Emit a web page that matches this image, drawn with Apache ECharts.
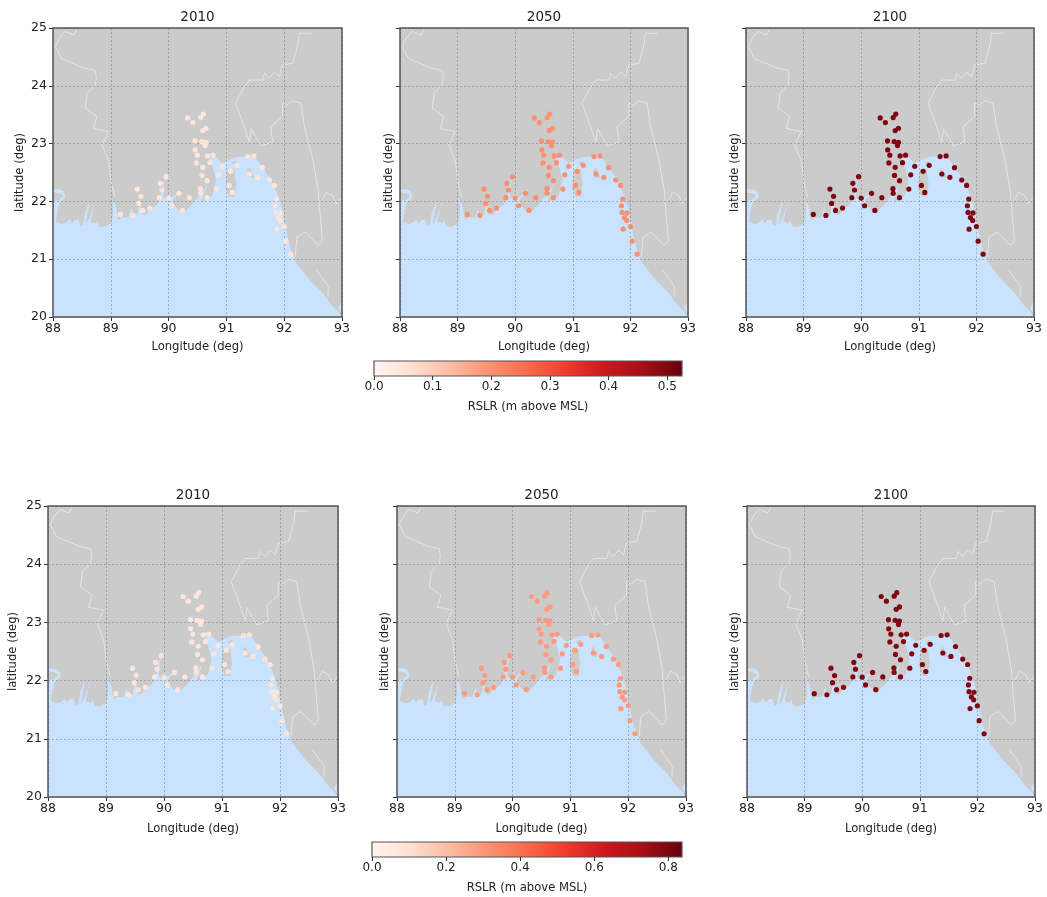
<!DOCTYPE html>
<html><head><meta charset="utf-8">
<style>html,body{margin:0;padding:0;background:#fff}#c{width:1047px;height:897px;filter:blur(0.4px)}</style>
<script src="https://cdn.jsdelivr.net/npm/echarts@6/dist/echarts.min.js"></script>
</head><body><div id="c"></div>
<script>
const years = ['2010', '2050', '2100'];
const lonTicks = [88, 89, 90, 91, 92, 93];
const latTicks = [20, 21, 22, 23, 24, 25];
const barTicksTop = [0, 0.1, 0.2, 0.3, 0.4, 0.5];
const barTicksBottom = [0, 0.2, 0.4, 0.6, 0.8];
const barMaxTop = 0.525;
const barMaxBottom = 0.837;
const redsStops = ['#fff5f0','#fee0d2','#fcbba1','#fc9272','#fb6a4a','#ef3b2c','#cb181d','#a50f15','#67000d'];

const stationLon = [90.33,90.42,90.555,90.60,90.59,90.647,90.457,90.572,90.647,90.63,90.46,90.497,90.676,90.77,90.48,90.717,90.59,90.578,90.665,90.86,90.93,91.075,91.18,91.37,91.474,91.62,91.40,91.54,91.745,91.83,91.046,91.104,90.827,90.55,90.555,90.665,90.358,90.18,89.954,89.855,89.884,89.838,90.0,90.058,90.237,89.676,89.555,89.486,89.52,89.457,89.387,89.168,91.867,91.844,91.855,91.94,91.896,91.936,91.873,92.0,92.03,92.116];
const stationLat = [23.445,23.364,23.45,23.51,23.225,23.266,23.046,23.035,23.023,22.965,22.89,22.80,22.786,22.80,22.665,22.67,22.59,22.45,22.358,22.46,22.607,22.52,22.624,22.775,22.786,22.584,22.474,22.416,22.37,22.277,22.277,22.156,22.214,22.22,22.14,22.064,22.064,22.14,22.428,22.312,22.197,22.064,22.058,21.925,21.844,21.884,21.844,21.965,22.087,22.214,21.757,21.775,22.04,21.925,21.81,21.80,21.72,21.67,21.52,21.566,21.312,21.087];

const rslrTop2010 = [0.05,0.05,0.05,0.05,0.05,0.05,0.05,0.05,0.05,0.05,0.05,0.05,0.05,0.05,0.05,0.05,0.05,0.05,0.05,0.05,0.05,0.05,0.05,0.05,0.05,0.05,0.05,0.05,0.05,0.05,0.05,0.05,0.05,0.05,0.05,0.05,0.05,0.05,0.05,0.05,0.05,0.05,0.05,0.05,0.05,0.05,0.05,0.05,0.05,0.05,0.05,0.05,0.05,0.05,0.05,0.05,0.05,0.05,0.05,0.05,0.05,0.05];
const rslrTop2050 = [0.2,0.2,0.2,0.2,0.2,0.2,0.2,0.2,0.2,0.2,0.2,0.2,0.2,0.2,0.2,0.2,0.2,0.2,0.2,0.2,0.2,0.2,0.2,0.2,0.2,0.2,0.2,0.2,0.2,0.2,0.2,0.2,0.2,0.2,0.2,0.2,0.2,0.2,0.2,0.2,0.2,0.2,0.2,0.2,0.2,0.2,0.2,0.2,0.2,0.2,0.2,0.2,0.2,0.2,0.2,0.2,0.2,0.2,0.2,0.2,0.2,0.2];
const rslrTop2100 = [0.5,0.5,0.5,0.5,0.5,0.5,0.5,0.5,0.5,0.5,0.5,0.5,0.5,0.5,0.5,0.5,0.5,0.5,0.5,0.5,0.5,0.5,0.5,0.5,0.5,0.5,0.5,0.5,0.5,0.5,0.5,0.5,0.5,0.5,0.5,0.5,0.5,0.5,0.5,0.5,0.5,0.5,0.5,0.5,0.5,0.5,0.5,0.5,0.5,0.5,0.5,0.5,0.5,0.5,0.5,0.5,0.5,0.5,0.5,0.5,0.5,0.5];
const rslrBottom2010 = [0.08,0.08,0.08,0.08,0.08,0.08,0.08,0.08,0.08,0.08,0.08,0.08,0.08,0.08,0.08,0.08,0.08,0.08,0.08,0.08,0.08,0.08,0.08,0.08,0.08,0.08,0.08,0.08,0.08,0.08,0.08,0.08,0.08,0.08,0.08,0.08,0.08,0.08,0.08,0.08,0.08,0.08,0.08,0.08,0.08,0.08,0.08,0.08,0.08,0.08,0.08,0.08,0.08,0.08,0.08,0.08,0.08,0.08,0.08,0.08,0.08,0.08];
const rslrBottom2050 = [0.29,0.29,0.29,0.29,0.29,0.29,0.29,0.29,0.29,0.29,0.29,0.29,0.29,0.29,0.29,0.29,0.29,0.29,0.29,0.29,0.29,0.29,0.29,0.29,0.29,0.29,0.29,0.29,0.29,0.29,0.29,0.29,0.29,0.29,0.29,0.29,0.29,0.29,0.29,0.29,0.29,0.29,0.29,0.29,0.29,0.29,0.29,0.29,0.29,0.29,0.29,0.29,0.29,0.29,0.29,0.29,0.29,0.29,0.29,0.29,0.29,0.29];
const rslrBottom2100 = [0.79,0.79,0.79,0.79,0.79,0.79,0.79,0.79,0.79,0.79,0.79,0.79,0.79,0.79,0.79,0.79,0.79,0.79,0.79,0.79,0.79,0.79,0.79,0.79,0.79,0.79,0.79,0.79,0.79,0.79,0.79,0.79,0.79,0.79,0.79,0.79,0.79,0.79,0.79,0.79,0.79,0.79,0.79,0.79,0.79,0.79,0.79,0.79,0.79,0.79,0.79,0.79,0.79,0.79,0.79,0.79,0.79,0.79,0.79,0.79,0.79,0.79];

const seaOutline = [[88,22.21],[88.13,22.21],[88.19,22.17],[88.22,22.07],[88.12,21.98],[88.08,21.85],[88.05,21.65],[88.15,21.61],[88.22,21.63],[88.29,21.69],[88.32,21.62],[88.38,21.68],[88.44,21.69],[88.48,21.56],[88.52,21.59],[88.55,21.79],[88.65,22.05],[88.59,21.76],[88.57,21.59],[88.63,21.71],[88.69,21.88],[88.74,22.05],[88.70,21.88],[88.65,21.65],[88.73,21.62],[88.77,21.67],[88.81,21.56],[88.90,21.56],[89.015,21.62],[89.04,21.79],[89.03,22.05],[89.09,21.91],[89.13,21.68],[89.19,21.72],[89.30,21.72],[89.36,21.88],[89.39,21.74],[89.46,21.77],[89.50,22.0],[89.54,21.78],[89.60,21.76],[89.68,21.86],[89.80,21.94],[89.86,22.08],[89.90,22.31],[89.97,22.43],[89.92,22.30],[89.91,22.07],[89.98,22.02],[90.02,22.17],[90.02,22.04],[90.11,22.11],[90.20,22.15],[90.08,22.04],[90.08,21.94],[90.17,21.85],[90.28,21.82],[90.37,21.91],[90.44,21.99],[90.59,22.17],[90.67,22.31],[90.62,22.16],[90.56,21.99],[90.70,22.05],[90.76,22.11],[90.82,22.37],[90.76,22.60],[90.70,22.74],[90.82,22.77],[90.93,22.66],[91.05,22.72],[91.14,22.76],[91.37,22.78],[91.47,22.80],[91.61,22.61],[91.76,22.39],[91.87,22.16],[91.96,21.90],[92.02,21.56],[92.10,21.21],[92.21,20.93],[92.44,20.64],[92.67,20.41],[92.84,20.18],[92.93,20.10],[92.97,20.04],[93,20],[88,20]];
const seaCorner = [[93,20.27],[92.93,20.15],[93,20.05]];
const islandHook = [[88,22.16],[88.05,22.15],[88.15,22.13],[88.17,22.08],[88.09,22.02],[88,22.01]];
const islandBhola = [[91.02,22.55],[91.14,22.55],[91.17,22.30],[91.14,22.08],[91.05,22.08],[90.98,22.25]];
const islandSpeck = [[91.10,22.68],[91.18,22.70],[91.18,22.64],[91.12,22.63]];
const islandHatiya = [[91.40,22.59],[91.49,22.41],[91.40,22.41],[91.36,22.53]];
const borderWest = [[88.41,24.97],[88.36,24.88],[88.21,24.94],[88.12,24.84],[88.04,24.68],[88.15,24.47],[88.56,24.30],[88.73,24.27],[88.75,24.15],[88.73,24.01],[88.59,23.87],[88.56,23.61],[88.76,23.47],[88.70,23.26],[88.96,23.21],[88.85,22.98],[88.96,22.70],[88.99,22.46],[89.00,22.36],[89.07,22.07]];
const borderEast = [[92.47,24.91],[92.26,24.91],[92.24,24.73],[92.15,24.39],[91.97,24.36],[91.92,24.16],[91.83,24.24],[91.74,24.13],[91.66,24.22],[91.63,24.10],[91.40,24.10],[91.31,23.98],[91.16,23.70],[91.31,23.29],[91.40,23.03],[91.43,23.26],[91.60,22.96],[91.80,23.03],[91.77,23.29],[91.97,23.47],[91.97,23.70],[92.04,23.66],[92.15,23.74],[92.29,23.70],[92.35,23.29],[92.50,22.70],[92.59,22.18],[92.62,21.78],[92.66,21.32],[92.59,21.24],[92.36,21.47],[92.22,21.38],[92.19,21.04]];
const borderFarEast = [[92.65,22.01],[92.73,22.16],[92.84,22.10],[92.90,21.96],[92.99,22.07]];
const borderSouth = [[92.56,20.81],[92.64,20.70],[92.76,20.53],[92.76,20.35]];

const LAND = '#cbcbcb', SEA = '#c9e3ff', FONT = '"DejaVu Sans"', TXT = '#222';
const panels = [
  {left:53,  top:28,  w:289, h:289, name:27, labels:true,  vals:rslrTop2010, row:0, y:0, gap:24},
  {left:400, top:28,  w:288, h:289, name:5,  labels:false, vals:rslrTop2050, row:0, y:1, gap:24},
  {left:746, top:28,  w:288, h:289, name:5,  labels:false, vals:rslrTop2100, row:0, y:2, gap:24},
  {left:48,  top:506, w:290, h:291, name:29, labels:true,  vals:rslrBottom2010, row:1, y:0, gap:26},
  {left:397, top:506, w:289, h:291, name:6,  labels:false, vals:rslrBottom2050, row:1, y:1, gap:26},
  {left:747, top:506, w:288, h:291, name:6,  labels:false, vals:rslrBottom2100, row:1, y:2, gap:26}
];
const polyItem = (api, pts, fill) => ({type:'polygon', shape:{points:pts.map(p => api.coord(p))}, style:{fill:fill}, silent:true});

const option = {animation:false, backgroundColor:'#fff', graphic:[], grid:[], xAxis:[], yAxis:[], series:[], visualMap:[]};
const rowSeries = [[],[]];
panels.forEach((p, i) => {
  option.graphic.push({type:'text', x:p.left + p.w/2, y:p.top - 11, silent:true,
    style:{text:years[p.y], align:'center', verticalAlign:'middle', font:'13.5px "DejaVu Sans"', fill:TXT}});
  option.grid.push({left:p.left, top:p.top, width:p.w, height:p.h, show:true, backgroundColor:LAND, borderWidth:0});
  option.xAxis.push({type:'value', gridIndex:i, min:88, max:93, interval:1, z:4,
    name:'Longitude (deg)', nameLocation:'middle', nameGap:p.gap, nameTextStyle:{fontFamily:FONT, fontSize:11.6, color:TXT},
    axisLine:{show:false}, axisTick:{show:true, length:4, lineStyle:{color:'#333'}},
    axisLabel:{fontFamily:FONT, fontSize:12.5, color:TXT, margin:5, formatter:v => lonTicks.includes(v) ? String(v) : ''},
    splitLine:{show:true, lineStyle:{color:'rgba(90,90,90,0.38)', type:[2,2], width:1}}});
  option.yAxis.push({type:'value', gridIndex:i, min:20, max:25, interval:1, z:4,
    name:'latitude (deg)', nameLocation:'middle', nameGap:p.name, nameRotate:90, nameTextStyle:{fontFamily:FONT, fontSize:11.6, color:TXT},
    axisLine:{show:false}, axisTick:{show:true, length:4, lineStyle:{color:'#333'}},
    axisLabel:{show:p.labels, fontFamily:FONT, fontSize:12.5, color:TXT, margin:6, formatter:v => latTicks.includes(v) ? String(v) : ''},
    splitLine:{show:true, lineStyle:{color:'rgba(90,90,90,0.38)', type:[2,2], width:1}}});
  const base = {xAxisIndex:i, yAxisIndex:i, silent:true};
  option.series.push({...base, type:'custom', z:1, data:[0], clip:true, renderItem:(par, api) => ({type:'group', children:[
    polyItem(api, seaOutline, SEA), polyItem(api, seaCorner, SEA), polyItem(api, islandHook, LAND),
    polyItem(api, islandBhola, LAND), polyItem(api, islandSpeck, LAND), polyItem(api, islandHatiya, LAND)]})});
  [borderWest, borderEast, borderFarEast, borderSouth].forEach(b => option.series.push({...base, type:'line', z:2, data:b,
    showSymbol:false, lineStyle:{color:'rgba(245,245,245,0.85)', width:0.7}}));
  rowSeries[p.row].push(option.series.length);
  option.series.push({...base, type:'scatter', z:6, symbolSize:5.2, itemStyle:{opacity:1},
    data:stationLon.map((lon, k) => [lon, stationLat[k], p.vals[k]])});
  option.series.push({...base, type:'custom', z:5, data:[0], clip:false, renderItem:(par, api) => {
    const a = api.coord([88,25]), b = api.coord([93,20]);
    return {type:'rect', shape:{x:a[0], y:a[1], width:b[0]-a[0], height:b[1]-a[1]}, style:{fill:'none', stroke:'#555', lineWidth:1.5}};
  }});
});
[[barMaxTop, barTicksTop, 374, 361, 308, 15, 25],[barMaxBottom, barTicksBottom, 372, 842, 310, 15, 25]].forEach((b, r) => {
  const idx = option.grid.length;
  option.grid.push({left:b[2], top:b[3], width:b[4], height:b[5]});
  option.xAxis.push({type:'value', gridIndex:idx, min:0, max:b[0], z:4,
    name:'RSLR (m above MSL)', nameLocation:'middle', nameGap:b[6], nameTextStyle:{fontFamily:FONT, fontSize:11.6, color:TXT},
    axisLine:{show:false}, splitLine:{show:false},
    axisTick:{show:true, length:4, customValues:b[1], lineStyle:{color:'#333'}},
    axisLabel:{fontFamily:FONT, fontSize:12, color:TXT, margin:5, customValues:b[1], formatter:v => v.toFixed(1)}});
  option.yAxis.push({type:'value', gridIndex:idx, min:0, max:1, show:false});
  option.series.push({type:'custom', xAxisIndex:idx, yAxisIndex:idx, silent:true, data:[[0, b[0]]], encode:{x:[0,1]},
    renderItem:(par, api) => {
      const a = api.coord([api.value(0), 1]), c = api.coord([api.value(1), 0]);
      return {type:'rect', shape:{x:a[0], y:a[1], width:c[0]-a[0], height:c[1]-a[1]},
        style:{fill:new echarts.graphic.LinearGradient(0,0,1,0, redsStops.map((col,k)=>({offset:k/(redsStops.length-1), color:col}))), stroke:'#555', lineWidth:1.2}};
    }});
  option.visualMap.push({type:'continuous', show:false, min:0, max:b[0], dimension:2, seriesIndex:rowSeries[r], inRange:{color:redsStops}});
});
echarts.init(document.getElementById('c'), null, {renderer:'canvas'}).setOption(option);
</script></body></html>
